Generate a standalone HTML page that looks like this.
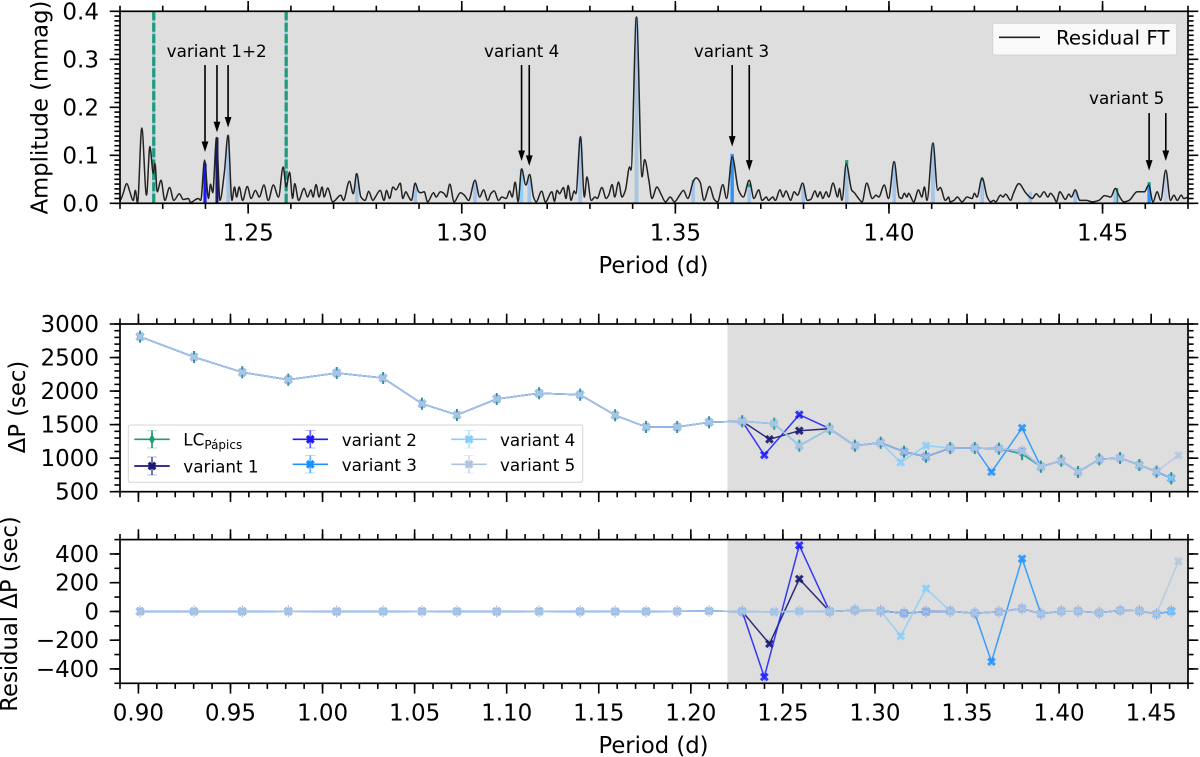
<!DOCTYPE html>
<html lang="en">
<head>
<meta charset="utf-8">
<title>Residual FT and period spacing</title>
<style>
html,body{margin:0;padding:0;background:#fff}
svg{display:block}
text{font-family:"DejaVu Sans","Liberation Sans",sans-serif;fill:#000}
</style>
</head>
<body>
<svg id="figure" xmlns="http://www.w3.org/2000/svg" width="1200" height="757" viewBox="0 0 1200 757">
  <defs>
    <clipPath id="clip-top"><rect x="120" y="11.3" width="1068" height="192"/></clipPath>
  </defs>
  <rect x="0" y="0" width="1200" height="757" fill="#fff"/>
  <rect x="120" y="11.3" width="1068" height="192" fill="#dedede"/>
  <rect x="727.5" y="324" width="460.5" height="167.7" fill="#dedede"/>
  <rect x="727.5" y="539.6" width="460.5" height="143.7" fill="#dedede"/>
  <g id="marks"></g>
  <g id="axes"></g>

  <text font-size="22.7" text-anchor="middle" transform="translate(47.7,107.5) rotate(-90)">Amplitude (mmag)</text>
  <text font-size="22.7" text-anchor="middle" x="653.5" y="273">Period (d)</text>
  <text font-size="22.7" text-anchor="middle" transform="translate(25,407) rotate(-90)">ΔP (sec)</text>
  <text font-size="22.7" text-anchor="middle" transform="translate(17,614) rotate(-90)">Residual ΔP (sec)</text>
  <text font-size="22.7" text-anchor="middle" x="653.5" y="753">Period (d)</text>

  <text font-size="16.8" text-anchor="middle" x="216.7" y="57">variant 1+2</text>
  <text font-size="16.8" text-anchor="middle" x="521.7" y="57">variant 4</text>
  <text font-size="16.8" text-anchor="middle" x="731.5" y="57">variant 3</text>
  <text font-size="16.8" text-anchor="middle" x="1126.7" y="104">variant 5</text>

  <g>
    <rect x="992.7" y="23.3" width="184" height="31.7" rx="2" fill="#fff" fill-opacity="0.8" stroke="#ccc" stroke-opacity="0.8" stroke-width="1"/>
    <line x1="999" x2="1040" y1="37.3" y2="37.3" stroke="#222" stroke-width="1.6"/>
    <text font-size="19.9" x="1056" y="44.3">Residual FT</text>
  </g>

  <g id="mid-legend">
    <rect x="128.3" y="425" width="454.4" height="57.3" rx="2" fill="#fff" fill-opacity="0.8" stroke="#ccc" stroke-opacity="0.8" stroke-width="1"/>
    <text font-size="16.8" x="183.3" y="445.5">LC<tspan font-size="12" dy="3.5">Pápics</tspan></text>
    <text font-size="16.8" x="183.3" y="472.5">variant 1</text>
    <text font-size="16.8" x="341.7" y="446">variant 2</text>
    <text font-size="16.8" x="341.7" y="471">variant 3</text>
    <text font-size="16.8" x="500" y="446">variant 4</text>
    <text font-size="16.8" x="500" y="471">variant 5</text>

    <g stroke="#1b9e77" fill="#1b9e77">
      <line x1="134.3" x2="169.7" y1="439.3" y2="439.3" stroke-width="1.7"/>
      <line x1="152" x2="152" y1="430.5" y2="448" stroke-width="1.7"/>
      <line x1="147" x2="157" y1="430.5" y2="430.5" stroke-width="1" stroke-opacity="0.3"/>
      <line x1="147" x2="157" y1="448" y2="448" stroke-width="1" stroke-opacity="0.3"/>
      <path d="M152,434 L155,439.3 L152,444.6 L149,439.3 Z" stroke="none"/>
    </g>
    <g stroke="#191970" fill="none">
      <line x1="134.3" x2="169.7" y1="466" y2="466" stroke-width="1.7"/>
      <line x1="152" x2="152" y1="457" y2="475" stroke-width="1.7" stroke-opacity="0.7"/>
      <line x1="147" x2="157" y1="457" y2="457" stroke-width="1" stroke-opacity="0.3"/>
      <line x1="147" x2="157" y1="475" y2="475" stroke-width="1" stroke-opacity="0.3"/>
      <path d="M148.7,462.7 L155.3,469.3 M148.7,469.3 L155.3,462.7" stroke-width="3.2"/>
    </g>
    <g stroke="#1a1aff" fill="none">
      <line x1="292.7" x2="328" y1="439.3" y2="439.3" stroke-width="1.7"/>
      <line x1="310.3" x2="310.3" y1="430.5" y2="448" stroke-width="1.7" stroke-opacity="0.7"/>
      <line x1="305.3" x2="315.3" y1="430.5" y2="430.5" stroke-width="1" stroke-opacity="0.3"/>
      <line x1="305.3" x2="315.3" y1="448" y2="448" stroke-width="1" stroke-opacity="0.3"/>
      <path d="M307,436 L313.6,442.6 M307,442.6 L313.6,436" stroke-width="3.2"/>
    </g>
    <g stroke="#1e90ff" fill="none">
      <line x1="292.7" x2="328" y1="464.3" y2="464.3" stroke-width="1.7"/>
      <line x1="310.3" x2="310.3" y1="455.5" y2="473" stroke-width="1.7" stroke-opacity="0.7"/>
      <line x1="305.3" x2="315.3" y1="455.5" y2="455.5" stroke-width="1" stroke-opacity="0.3"/>
      <line x1="305.3" x2="315.3" y1="473" y2="473" stroke-width="1" stroke-opacity="0.3"/>
      <path d="M307,461 L313.6,467.6 M307,467.6 L313.6,461" stroke-width="3.2"/>
    </g>
    <g stroke="#87cefa" fill="none">
      <line x1="451.3" x2="486.7" y1="439.3" y2="439.3" stroke-width="1.7"/>
      <line x1="469" x2="469" y1="430.5" y2="448" stroke-width="1.7" stroke-opacity="0.6"/>
      <line x1="464" x2="474" y1="430.5" y2="430.5" stroke-width="1" stroke-opacity="0.3"/>
      <line x1="464" x2="474" y1="448" y2="448" stroke-width="1" stroke-opacity="0.3"/>
      <path d="M465.7,436 L472.3,442.6 M465.7,442.6 L472.3,436" stroke-width="3.2"/>
    </g>
    <g stroke="#b0c4de" fill="none">
      <line x1="451.3" x2="486.7" y1="464.3" y2="464.3" stroke-width="1.7"/>
      <line x1="469" x2="469" y1="455.5" y2="473" stroke-width="1.7" stroke-opacity="0.6"/>
      <line x1="464" x2="474" y1="455.5" y2="455.5" stroke-width="1" stroke-opacity="0.3"/>
      <line x1="464" x2="474" y1="473" y2="473" stroke-width="1" stroke-opacity="0.3"/>
      <path d="M465.7,461 L472.3,467.6 M465.7,467.6 L472.3,461" stroke-width="3.2"/>
    </g>
  </g>
</svg>

<script>
// ---------- Residual FT (top panel) ----------
var ftPeriods = [1.2200,1.2206,1.2216,1.2223,1.2231,1.2236,1.2241,1.2251,1.2262,1.2270,1.2278,1.2282,1.2287,1.2296,1.2305,1.2316,1.2326,1.2339,1.2348,1.2360,1.2365,1.2383,1.2389,1.2398,1.2407,1.2412,1.2417,1.2426,1.2434,1.2444,1.2453,1.2462,1.2468,1.2473,1.2479,1.2487,1.2498,1.2507,1.2517,1.2526,1.2537,1.2547,1.2559,1.2571,1.2582,1.2589,1.2597,1.2604,1.2609,1.2618,1.2631,1.2639,1.2647,1.2652,1.2659,1.2666,1.2673,1.2678,1.2686,1.2698,1.2717,1.2723,1.2737,1.2746,1.2754,1.2764,1.2774,1.2782,1.2792,1.2797,1.2809,1.2818,1.2824,1.2831,1.2839,1.2846,1.2856,
1.2862,1.2869,1.2876,1.2882,1.2891,1.2899,1.2904,1.2912,1.2920,1.2934,1.2940,1.2950,1.2959,1.2964,1.2972,1.2982,1.2997,1.3006,1.3016,1.3031,1.3042,1.3051,1.3061,1.3068,1.3076,1.3086,1.3094,1.3104,1.3112,1.3118,1.3125,1.3132,1.3140,1.3150,1.3159,1.3168,1.3174,1.3187,1.3196,1.3211,1.3217,1.3223,1.3229,1.3238,1.3244,1.3249,1.3256,1.3263,1.3267,1.3278,1.3287,1.3293,1.3303,1.3312,1.3317,1.3328,1.3338,1.3344,1.3352,1.3358,1.3367,1.3375,1.3383,1.3393,1.3396,1.3409,1.3422,1.3428,1.3438,1.3445,1.3457,1.3466,1.3477,1.3488,1.3498,1.3510,1.3519,1.3529,1.3543,1.3549,1.3558,
1.3567,1.3580,1.3591,1.3599,1.3611,1.3620,1.3633,1.3648,1.3659,1.3673,1.3684,1.3695,1.3703,1.3713,1.3718,1.3728,1.3734,1.3745,1.3752,1.3759,1.3770,1.3778,1.3786,1.3798,1.3809,1.3817,1.3827,1.3833,1.3839,1.3845,1.3853,1.3859,1.3869,1.3880,1.3884,1.3890,1.3900,1.3913,1.3919,1.3929,1.3937,1.3948,1.3961,1.3970,1.3976,1.3989,1.3999,1.4012,1.4024,1.4030,1.4036,1.4042,1.4046,1.4058,1.4069,1.4077,1.4083,1.4089,1.4103,1.4114,1.4120,1.4132,1.4140,1.4143,
1.4152,1.4160,1.4171,1.4183,1.4195,1.4200,1.4206,1.4218,1.4230,1.4238,1.4245,1.4250,1.4261,1.4267,1.4273,1.4285,1.4291,1.4304,1.4320,1.4335,1.4345,1.4353,1.4363,1.4372,1.4378,1.4386,1.4392,1.4400,1.4413,1.4421,1.4427,1.4436,1.4447,1.4462,1.4476,1.4491,1.4505,1.4519,1.4530,1.4538,1.4550,1.4562,1.4581,1.4598,1.4608,1.4618,1.4628,1.4636,1.4648,1.4659,1.4667,1.4675,1.4684,1.4690,1.4702];
var ftAmps = [.006,.017,.041,.024,.006,.027,.001,.157,.017,.118,.062,.083,.024,.048,.006,.033,.006,.020,.008,.010,.002,.010,.006,.090,.010,.040,.022,.137,.006,.062,.142,.006,.034,.013,.034,.006,.035,.010,.027,.013,.038,.006,.038,.013,.076,.034,.065,.010,.041,.006,.031,.013,.028,.013,.039,.013,.034,.013,.032,.003,.017,.006,.046,.020,.062,.013,.006,.025,.006,.012,.027,.006,.027,.010,.034,.028,.042,
.010,.024,.013,.006,.042,.024,.022,.024,.003,.022,.013,.024,.020,.013,.040,.003,.022,.017,.006,.048,.013,.028,.006,.020,.026,.006,.013,.010,.026,.013,.044,.003,.072,.038,.060,.013,.003,.025,.003,.024,.004,.027,.020,.033,.010,.037,.006,.026,.020,.139,.013,.055,.006,.013,.010,.033,.010,.017,.039,.013,.044,.013,.027,.076,.069,.388,.055,.091,.048,.010,.034,.020,.003,.013,.003,.017,.027,.010,.048,.053,.044,
.006,.035,.008,.003,.039,.010,.097,.027,.013,.048,.010,.028,.006,.013,.006,.013,.006,.028,.013,.026,.006,.024,.017,.042,.006,.008,.026,.013,.024,.010,.024,.013,.042,.013,.031,.006,.082,.027,.022,.010,.003,.042,.010,.017,.013,.038,.010,.087,.013,.010,.021,.013,.021,.003,.028,.013,.034,.006,.126,.027,.033,.006,.013,.003,
.006,.013,.003,.013,.010,.021,.013,.053,.013,.003,.006,.003,.017,.013,.019,.006,.020,.041,.022,.010,.020,.013,.024,.013,.021,.013,.003,.024,.008,.019,.013,.028,.006,.006,.003,.006,.016,.013,.031,.017,.003,.006,.024,.024,.038,.003,.024,.006,.069,.006,.017,.006,.017,.010,.013];

// Mode bars in the top panel
var lcPeakPeriods = [1.2453,1.2754,1.2891,1.3031,1.3158,1.3277,1.3409,1.3542,1.3673,1.3799,1.3901,1.4012,1.4103,1.4218,1.4331,1.4436,1.4533,1.4609];
var lcPeakAmps = [.130,.055,.035,.040,.055,.130,.380,.048,.041,.035,.090,.085,.122,.052,.020,.024,.032,.044];
var sharedPeakPeriods = [1.2453,1.2754,1.2891,1.3031,1.3158,1.3277,1.3409,1.3542,1.3673,1.3799,1.3901,1.4012,1.4103,1.4218,1.4331,1.4436,1.4529];
var sharedPeakAmps = [.142,.062,.042,.044,.060,.135,.387,.047,.034,.038,.081,.087,.126,.047,.024,.027,.030];
var v1PeakPeriods = [1.2427];
var v1PeakAmps = [.137];
var v2PeakPeriods = [1.2399];
var v2PeakAmps = [.083];
var v3PeakPeriods = [1.3633,1.4609];
var v3PeakAmps = [.103,.038];
var v4PeakPeriods = [1.3140];
var v4PeakAmps = [.072];
var v5PeakPeriods = [1.4648];
var v5PeakAmps = [.069];
var dashedPeriods = [1.2279,1.2589];

// Annotation arrows: which modes they point at and the amplitude of the arrow tip
var arrowPeriods = [1.2399,1.2427,1.2453,1.3140,1.3158,1.3633,1.3673,1.4609,1.4648];
var arrowTipAmps = [.107,.148,.158,.088,.078,.118,.068,.068,.088];
var arrowStartAmps = [.288,.288,.288,.288,.288,.288,.288,.188,.188];

// ---------- Period spacing (middle panel) ----------
var lcPeriods = [0.9009,0.9302,0.9564,0.9814,1.0077,1.0329,1.0540,1.0730,1.0946,1.1176,1.1399,1.1589,1.1757,1.1926,1.2099,1.2279,1.2453,1.2589,1.2754,1.2891,1.3031,1.3158,1.3277,1.3409,1.3542,1.3673,1.3799,1.3901,1.4012,1.4103,1.4218,1.4331,1.4436,1.4529,1.4609];
var lcDeltaP = [2811,2508,2280,2170,2270,2195,1812,1643,1882,1967,1946,1640,1465,1465,1535,1550,1514,1186,1439,1186,1230,1096,1022,1151,1151,1141,1060,873,962,794,983,1002,898,798,700];

var v1Periods = [0.9009,0.9302,0.9564,0.9814,1.0077,1.0329,1.0540,1.0730,1.0946,1.1176,1.1399,1.1589,1.1757,1.1926,1.2099,1.2279,1.2427,1.2589,1.2754,1.2891,1.3031,1.3158,1.3277,1.3409,1.3542,1.3673,1.3799,1.3901,1.4012,1.4103,1.4218,1.4331,1.4436,1.4529,1.4609];
var v1DeltaP = [2811,2508,2280,2170,2270,2195,1812,1643,1882,1967,1946,1640,1465,1465,1535,1550,1281,1409,1439,1186,1230,1096,1022,1151,1151,1141,1102,873,962,794,983,1002,898,798,700];
var v1Residual = [0,0,0,1,0,0,1,0,0,1,0,-1,0,1,3,0,-225,226,0,9,4,-12,-1,2,-12,-2,20,-16,2,2,-9,7,4,-18,2];

var v2Periods = [0.9009,0.9302,0.9564,0.9814,1.0077,1.0329,1.0540,1.0730,1.0946,1.1176,1.1399,1.1589,1.1757,1.1926,1.2099,1.2279,1.2399,1.2589,1.2754,1.2891,1.3031,1.3158,1.3277,1.3409,1.3542,1.3673,1.3799,1.3901,1.4012,1.4103,1.4218,1.4331,1.4436,1.4529,1.4609];
var v2DeltaP = [2811,2508,2280,2170,2270,2195,1812,1643,1882,1967,1946,1640,1465,1465,1535,1550,1047,1648,1439,1186,1230,1096,1022,1151,1151,1141,1102,873,962,794,983,1002,898,798,700];
var v2Residual = [0,0,0,1,0,0,1,0,0,1,0,-1,0,1,3,0,-456,460,0,9,4,-12,-1,2,-12,-2,20,-16,2,2,-9,7,4,-18,2];

var v3Periods = [0.9009,0.9302,0.9564,0.9814,1.0077,1.0329,1.0540,1.0730,1.0946,1.1176,1.1399,1.1589,1.1757,1.1926,1.2099,1.2279,1.2453,1.2589,1.2754,1.2891,1.3031,1.3158,1.3277,1.3409,1.3542,1.3633,1.3799,1.3901,1.4012,1.4103,1.4218,1.4331,1.4436,1.4529,1.4609];
var v3DeltaP = [2811,2508,2280,2170,2270,2195,1812,1643,1882,1967,1946,1640,1465,1465,1535,1550,1514,1186,1439,1186,1230,1096,1022,1151,1151,794,1450,873,962,794,983,1002,898,798,700];
var v3Residual = [0,0,0,1,0,0,1,0,0,1,0,-1,0,1,3,0,-3,2,0,9,4,-12,-1,2,-12,-350,367,-16,2,2,-9,7,4,-18,2];

var v4Periods = [0.9009,0.9302,0.9564,0.9814,1.0077,1.0329,1.0540,1.0730,1.0946,1.1176,1.1399,1.1589,1.1757,1.1926,1.2099,1.2279,1.2453,1.2589,1.2754,1.2891,1.3031,1.3140,1.3277,1.3409,1.3542,1.3673,1.3799,1.3901,1.4012,1.4103,1.4218,1.4331,1.4436,1.4529,1.4609];
var v4DeltaP = [2811,2508,2280,2170,2270,2195,1812,1643,1882,1967,1946,1640,1465,1465,1535,1550,1514,1186,1439,1186,1230,938,1186,1151,1151,1141,1102,873,962,794,983,1002,898,798,700];
var v4Residual = [0,0,0,1,0,0,1,0,0,1,0,-1,0,1,3,0,-3,2,0,9,4,-171,160,2,-12,-2,20,-16,2,2,-9,7,4,-18,2];

var v5Periods = [0.9009,0.9302,0.9564,0.9814,1.0077,1.0329,1.0540,1.0730,1.0946,1.1176,1.1399,1.1589,1.1757,1.1926,1.2099,1.2279,1.2453,1.2589,1.2754,1.2891,1.3031,1.3158,1.3277,1.3409,1.3542,1.3673,1.3799,1.3901,1.4012,1.4103,1.4218,1.4331,1.4436,1.4529,1.4648];
var v5DeltaP = [2811,2508,2280,2170,2270,2195,1812,1643,1882,1967,1946,1640,1465,1465,1535,1550,1514,1186,1439,1186,1230,1096,1022,1151,1151,1141,1102,873,962,794,983,1002,898,798,1043];
var v5Residual = [0,0,0,1,0,0,1,0,0,1,0,-1,0,1,3,0,-3,2,0,9,4,-12,-1,2,-12,-2,20,-16,2,2,-9,7,4,-18,349];

// Tick labels
var topXTickLabels = ['1.25','1.30','1.35','1.40','1.45'];
var bottomXTickLabels = ['0.90','0.95','1.00','1.05','1.10','1.15','1.20','1.25','1.30','1.35','1.40','1.45'];
var topYTickLabels = ['0.0','0.1','0.2','0.3','0.4'];
var midYTickLabels = ['500','1000','1500','2000','2500','3000'];
var botYTickLabels = ['-400','-200','0','200','400'];

// ---------- Axis functions ----------
var L = 120, R = 1188;
var topBox = {t: 11.3, b: 203.3};
var midBox = {t: 324, b: 491.7};
var botBox = {t: 539.6, b: 683.3};
function xTop(p) { return L + (p - 1.22) / 0.25 * (R - L); }
function xWide(p) { return L + (p - 0.89) / 0.58 * (R - L); }
function yAmp(a) { return topBox.b - a / 0.4 * (topBox.b - topBox.t); }
function yDelta(v) { return midBox.b - (v - 500) / 2500 * (midBox.b - midBox.t); }
function yRes(v) { return botBox.b - (v + 500) / 1000 * (botBox.b - botBox.t); }

var NS = 'http://www.w3.org/2000/svg';
var marks = document.getElementById('marks');
var axes = document.getElementById('axes');

function mk(parent, tag, attrs, name) {
  var el = document.createElementNS(NS, tag);
  for (var k in attrs) el.setAttribute(k, attrs[k]);
  
  
  parent.appendChild(el);
  return el;
}

// Smooth (monotone cubic) path through the read-off FT points
function smoothPath(xs, ys) {
  var n = xs.length, m = [], i;
  for (i = 0; i < n; i++) {
    if (i === 0 || i === n - 1) { m.push(0); continue; }
    var s0 = (ys[i] - ys[i - 1]) / (xs[i] - xs[i - 1]);
    var s1 = (ys[i + 1] - ys[i]) / (xs[i + 1] - xs[i]);
    m.push(s0 * s1 <= 0 ? 0 : 2 * s0 * s1 / (s0 + s1));
  }
  var d = 'M' + xs[0].toFixed(2) + ',' + ys[0].toFixed(2);
  for (i = 0; i < n - 1; i++) {
    var dx = (xs[i + 1] - xs[i]) / 3;
    d += ' C' + (xs[i] + dx).toFixed(2) + ',' + (ys[i] + m[i] * dx).toFixed(2) + ' ' +
         (xs[i + 1] - dx).toFixed(2) + ',' + (ys[i + 1] - m[i + 1] * dx).toFixed(2) + ' ' +
         xs[i + 1].toFixed(2) + ',' + ys[i + 1].toFixed(2);
  }
  return d;
}

// ---------- Top panel marks ----------
var topClip = mk(marks, 'g', {'clip-path': 'url(#clip-top)'}, 'top-panel-plot-area');

function drawBars(periods, amps, color, width, name) {
  for (var i = 0; i < periods.length; i++) {
    var x = xTop(periods[i]);
    mk(topClip, 'line', {x1: x, x2: x, y1: yAmp(0), y2: yAmp(amps[i]), stroke: color, 'stroke-width': width}, name);
  }
}
drawBars(lcPeakPeriods, lcPeakAmps, '#1b9e77', 3.2, 'lc-mode-bar');
drawBars(sharedPeakPeriods, sharedPeakAmps, '#a5c6ea', 3.4, 'shared-mode-bar');
drawBars(v1PeakPeriods, v1PeakAmps, '#191970', 3, 'variant-1-mode-bar');
drawBars(v2PeakPeriods, v2PeakAmps, '#1a1aff', 3.2, 'variant-2-mode-bar');
drawBars(v3PeakPeriods, v3PeakAmps, '#2f93f5', 3.4, 'variant-3-mode-bar');
drawBars(v4PeakPeriods, v4PeakAmps, '#90d0f8', 3.4, 'variant-4-mode-bar');
drawBars(v5PeakPeriods, v5PeakAmps, '#c2cfe4', 3.4, 'variant-5-mode-bar');

dashedPeriods.forEach(function (p) {
  var x = xTop(p);
  mk(topClip, 'line', {x1: x, x2: x, y1: yAmp(0), y2: yAmp(0.4), stroke: '#a5c6ea', 'stroke-width': 3}, 'removed-mode-line');
  mk(topClip, 'line', {x1: x, x2: x, y1: yAmp(0.4), y2: yAmp(0), stroke: '#1b9e77', 'stroke-width': 3.2, 'stroke-dasharray': '9 2.4'}, 'removed-mode-dashed-line');
});

mk(topClip, 'path', {d: smoothPath(ftPeriods.map(xTop), ftAmps.map(yAmp)), fill: 'none', stroke: '#222', 'stroke-width': 1.5, 'stroke-linejoin': 'round'}, 'residual-ft-line');

arrowPeriods.forEach(function (p, i) {
  var x = xTop(p), tip = yAmp(arrowTipAmps[i]), start = yAmp(arrowStartAmps[i]);
  mk(marks, 'line', {x1: x, x2: x, y1: start, y2: tip - 8, stroke: '#000', 'stroke-width': 1.6}, 'annotation-arrow-shaft');
  mk(marks, 'path', {d: 'M' + x + ',' + tip + ' L' + (x - 3.4) + ',' + (tip - 10.5) + ' L' + (x + 3.4) + ',' + (tip - 10.5) + ' Z', fill: '#000'}, 'annotation-arrow-head');
});

// ---------- Middle & bottom panel series ----------
function drawLine(periods, vals, yFn, color, op, name) {
  var pts = periods.map(function (p, i) { return xWide(p).toFixed(1) + ',' + yFn(vals[i]).toFixed(1); }).join(' ');
  mk(marks, 'polyline', {points: pts, fill: 'none', stroke: color, 'stroke-width': 1.5, 'stroke-opacity': op}, name);
}
function drawCross(x, y, color, op, name) {
  var s = 3.3;
  mk(marks, 'path', {d: 'M' + (x - s) + ',' + (y - s) + ' L' + (x + s) + ',' + (y + s) + ' M' + (x - s) + ',' + (y + s) + ' L' + (x + s) + ',' + (y - s), fill: 'none', stroke: color, 'stroke-width': 3.1, 'stroke-opacity': op}, name);
}
function drawVariant(periods, vals, yFn, color, op, name) {
  drawLine(periods, vals, yFn, color, op, name + '-line');
  periods.forEach(function (p, i) {
    var x = xWide(p), y = yFn(vals[i]);
    mk(marks, 'line', {x1: x, x2: x, y1: y - 6, y2: y + 6, stroke: color, 'stroke-width': 1, 'stroke-opacity': 0.15}, name + '-error-bar');
    drawCross(x, y, color, op, name + '-point');
  });
}

// LC series (middle panel only)
drawLine(lcPeriods, lcDeltaP, yDelta, '#1b9e77', 0.9, 'lc-papics-line');
lcPeriods.forEach(function (p, i) {
  var x = xWide(p), y = yDelta(lcDeltaP[i]);
  mk(marks, 'line', {x1: x, x2: x, y1: y - 6, y2: y + 6, stroke: '#1b9e77', 'stroke-width': 2}, 'lc-papics-error-bar');
  mk(marks, 'path', {d: 'M' + x + ',' + (y - 4) + ' L' + (x + 3) + ',' + y + ' L' + x + ',' + (y + 4) + ' L' + (x - 3) + ',' + y + ' Z', fill: '#1b9e77'}, 'lc-papics-point');
});

drawVariant(v1Periods, v1DeltaP, yDelta, '#191970', 0.9, 'variant-1-delta-p');
drawVariant(v2Periods, v2DeltaP, yDelta, '#1a1aff', 0.85, 'variant-2-delta-p');
drawVariant(v3Periods, v3DeltaP, yDelta, '#1e90ff', 0.85, 'variant-3-delta-p');
drawVariant(v4Periods, v4DeltaP, yDelta, '#87cefa', 0.85, 'variant-4-delta-p');
drawVariant(v5Periods, v5DeltaP, yDelta, '#b0c4de', 0.8, 'variant-5-delta-p');

drawVariant(v1Periods, v1Residual, yRes, '#191970', 0.9, 'variant-1-residual');
drawVariant(v2Periods, v2Residual, yRes, '#1a1aff', 0.85, 'variant-2-residual');
drawVariant(v3Periods, v3Residual, yRes, '#1e90ff', 0.85, 'variant-3-residual');
drawVariant(v4Periods, v4Residual, yRes, '#87cefa', 0.85, 'variant-4-residual');
drawVariant(v5Periods, v5Residual, yRes, '#b0c4de', 0.8, 'variant-5-residual');

// ---------- Axes ----------
var MAJOR = 10.3, MINOR = 5.6, TW = 1.6, FS = 23;
function tickX(x, box, len, name) {
  mk(axes, 'line', {x1: x, x2: x, y1: box.t, y2: box.t - len, stroke: '#000', 'stroke-width': TW}, name + '-top');
  mk(axes, 'line', {x1: x, x2: x, y1: box.b, y2: box.b + len, stroke: '#000', 'stroke-width': TW}, name + '-bottom');
}
function tickY(y, len, name) {
  mk(axes, 'line', {x1: L, x2: L - len, y1: y, y2: y, stroke: '#000', 'stroke-width': TW}, name + '-left');
  mk(axes, 'line', {x1: R, x2: R + len, y1: y, y2: y, stroke: '#000', 'stroke-width': TW}, name + '-right');
}
function label(x, y, s, anchor, name) {
  var t = mk(axes, 'text', {x: x, y: y, 'font-size': FS, 'text-anchor': anchor}, name);
  t.textContent = s.replace('-', '\u2212');
}
function spine(box, name) {
  mk(axes, 'rect', {x: L, y: box.t, width: R - L, height: box.b - box.t, fill: 'none', stroke: '#000', 'stroke-width': 1.7}, name);
}

// Top panel
var i;
for (i = 122; i <= 147; i++) tickX(xTop(i / 100), topBox, MINOR, 'top-x-minor-tick');
topXTickLabels.forEach(function (s) {
  var x = xTop(parseFloat(s));
  tickX(x, topBox, MAJOR, 'top-x-major-tick');
  label(x, 240.7, s, 'middle', 'top-x-tick-label');
});
for (i = 0; i <= 40; i++) tickY(yAmp(i / 100), MINOR, 'top-y-minor-tick');
topYTickLabels.forEach(function (s) {
  var y = yAmp(parseFloat(s));
  tickY(y, MAJOR, 'top-y-major-tick');
  label(99, y + 8, s, 'end', 'top-y-tick-label');
});
spine(topBox, 'top-panel-frame');

// Middle panel
for (i = 89; i <= 147; i++) tickX(xWide(i / 100), midBox, MINOR, 'middle-x-minor-tick');
bottomXTickLabels.forEach(function (s) { tickX(xWide(parseFloat(s)), midBox, MAJOR, 'middle-x-major-tick'); });
for (i = 5; i <= 30; i++) tickY(yDelta(i * 100), MINOR, 'middle-y-minor-tick');
midYTickLabels.forEach(function (s) {
  var y = yDelta(parseFloat(s));
  tickY(y, MAJOR, 'middle-y-major-tick');
  label(99, y + 8, s, 'end', 'middle-y-tick-label');
});
spine(midBox, 'middle-panel-frame');

// Bottom panel
for (i = 89; i <= 147; i++) tickX(xWide(i / 100), botBox, MINOR, 'bottom-x-minor-tick');
bottomXTickLabels.forEach(function (s) {
  var x = xWide(parseFloat(s));
  tickX(x, botBox, MAJOR, 'bottom-x-major-tick');
  label(x, 720.7, s, 'middle', 'bottom-x-tick-label');
});
for (i = -5; i <= 5; i++) tickY(yRes(i * 100), MINOR, 'bottom-y-minor-tick');
botYTickLabels.forEach(function (s) {
  var y = yRes(parseFloat(s));
  tickY(y, MAJOR, 'bottom-y-major-tick');
  label(99, y + 8, s, 'end', 'bottom-y-tick-label');
});
spine(botBox, 'bottom-panel-frame');
</script>
</body>
</html>
